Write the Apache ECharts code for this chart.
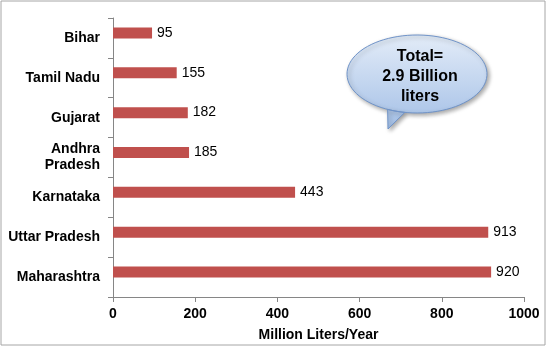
<!DOCTYPE html>
<html><head><meta charset="utf-8">
<script src="https://cdn.jsdelivr.net/npm/echarts@6/dist/echarts.min.js"></script>
<style>html,body{margin:0;padding:0;background:#fff}#c{width:550px;height:347px}</style>
</head><body><div id="c"></div>
<script>
const categories = ['Maharashtra','Uttar Pradesh','Karnataka','Andhra\nPradesh','Gujarat','Tamil Nadu','Bihar'];
const values = [920, 913, 443, 185, 182, 155, 95];
const xTicks = [0, 200, 400, 600, 800, 1000];
const calloutText = 'Total=\n2.9 Billion\nliters';

// callout outline (decorative shape)
function calloutPoints(cx, cy, rx, ry) {
  const pts = [];
  const n = 90;
  const a1 = Math.atan2((115 - cy) / ry, (383 - cx) / rx);
  const a2 = Math.atan2((118 - cy) / ry, (403 - cx) / rx);
  for (let i = 0; i <= n; i++) {
    const t = a2 + (a1 - a2 + 2 * Math.PI) * i / n;
    pts.push([cx + rx * Math.cos(t), cy + ry * Math.sin(t)]);
  }
  pts.push([388, 129]);
  return pts;
}

const chart = echarts.init(document.getElementById('c'), null, {renderer: 'canvas'});
chart.setOption({
  animation: false,
  textStyle: {fontFamily: 'Liberation Sans, Arial, sans-serif'},
  grid: {left: 113, right: 26, top: 18, bottom: 49, containLabel: false},
  xAxis: {
    type: 'value', min: 0, max: 1000, interval: 200,
    name: 'Million Liters/Year', nameLocation: 'middle', nameGap: 31,
    nameTextStyle: {fontSize: 14, fontWeight: 'bold', color: '#000'},
    axisLine: {show: true, lineStyle: {color: '#868686'}},
    axisTick: {show: true, length: 5, lineStyle: {color: '#868686'}},
    axisLabel: {fontSize: 14, fontWeight: 'bold', color: '#000', margin: 10,
      formatter: v => xTicks.includes(v) ? String(v) : ''},
    splitLine: {show: false}
  },
  yAxis: {
    type: 'category', data: categories,
    axisLine: {lineStyle: {color: '#868686'}},
    axisTick: {show: true, length: 5, lineStyle: {color: '#868686'}},
    axisLabel: {fontSize: 14, fontWeight: 'bold', color: '#000', margin: 13, lineHeight: 16}
  },
  series: [{
    type: 'bar', data: values, barWidth: 11, barGap: '-9%',
    itemStyle: {color: '#C0504D'},
    label: {show: true, position: 'right', distance: 5, fontSize: 14, color: '#000'}
  }, {
    type: 'bar', data: values.map(() => '-'), barWidth: 11, silent: true
  }],
  graphic: [
    {type: 'rect', shape: {x: 1, y: 1, width: 544, height: 344}, style: {fill: 'none', stroke: '#a6a6a6', lineWidth: 1}, silent: true},
    {type: 'polygon', shape: {points: calloutPoints(417, 74, 70, 39)},
      style: {
        fill: new echarts.graphic.LinearGradient(0, 0, 0, 1, [
          {offset: 0, color: '#e3ecf8'}, {offset: 1, color: '#a3bfe6'}]),
        stroke: '#6f93c8', lineWidth: 1,
        shadowBlur: 4, shadowOffsetX: 2, shadowOffsetY: 2, shadowColor: 'rgba(0,0,0,0.35)'
      }, z: 10},
    {type: 'text', x: 420, y: 77, z: 11,
      style: {text: calloutText, fontSize: 16, fontWeight: 'bold', fill: '#000', align: 'center', verticalAlign: 'middle', lineHeight: 20, fontFamily: 'Liberation Sans, Arial, sans-serif'}}
  ]
});
</script></body></html>
